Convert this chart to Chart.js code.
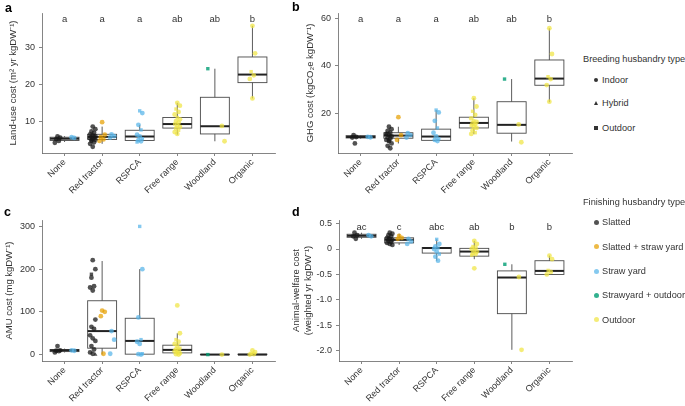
<!DOCTYPE html>
<html><head><meta charset="utf-8">
<script src="https://cdn.jsdelivr.net/npm/chart.js@4.4.0/dist/chart.umd.min.js"></script>
<style>
body{margin:0;background:#fff;width:685px;height:406px;overflow:hidden;position:relative;font-family:'Liberation Sans',Arial,sans-serif;}
.cv{position:absolute;}
.pl{position:absolute;font-weight:bold;font-size:12.5px;color:#000;line-height:1;}
.lg{position:absolute;font-size:9.2px;color:#333;white-space:nowrap;line-height:10px;}
.mk{position:absolute;}
</style></head><body>
<div class="cv" style="left:0;top:0;width:280px;height:200px"><canvas id="ca"></canvas></div>
<div class="cv" style="left:290px;top:0;width:287px;height:200px"><canvas id="cb"></canvas></div>
<div class="cv" style="left:0;top:200px;width:280px;height:206px"><canvas id="cc"></canvas></div>
<div class="cv" style="left:290px;top:200px;width:287px;height:206px"><canvas id="cd"></canvas></div>
<div class="pl" style="left:5px;top:2px">a</div>
<div class="pl" style="left:292px;top:1px">b</div>
<div class="pl" style="left:4px;top:206px">c</div>
<div class="pl" style="left:292px;top:206px">d</div>
<div id="legend"></div>
<script>
// ---------------- DATA ----------------
const categories = ['None','Red tractor','RSPCA','Free range','Woodland','Organic'];
const finishingTypes = ['Slatted','Slatted + straw yard','Straw yard','Strawyard + outdoor','Outdoor'];
const breedingTypes = ['Indoor','Hybrid','Outdoor'];

// box stats: [lower whisker, Q1, median, Q3, upper whisker]
const landUseBoxes = [
 [4.3, 4.7, 5.2, 5.6, 5.9],
 [3.8, 5.0, 5.7, 6.4, 8.5],
 [4.3, 4.7, 5.8, 7.5, 9.0],
 [6.3, 8.1, 9.2, 11.0, 15.0],
 [4.5, 6.5, 8.6, 16.5, 24.3],
 [16.2, 20.5, 22.7, 27.5, 36.0]
];
const ghgBoxes = [
 [9.5, 9.8, 10.2, 10.8, 11.0],
 [7.5, 9.7, 10.8, 12.0, 14.5],
 [8.5, 8.8, 10.4, 13.5, 21.5],
 [11.4, 14.0, 16.1, 18.5, 26.5],
 [8.3, 11.8, 15.3, 25.0, 34.5],
 [24.8, 31.9, 34.7, 42.5, 55.8]
];
const amuBoxes = [
 [5, 7, 10, 12, 14],
 [0, 15, 55, 126, 219],
 [0, 1, 32, 85, 200],
 [0, 4, 11, 22, 50],
 [0, 0, 0, 0.5, 0.5],
 [0, 0, 0, 1, 2]
];
const welfareBoxes = [
 [0.2, 0.23, 0.26, 0.29, 0.32],
 [0.08, 0.12, 0.18, 0.22, 0.3],
 [-0.23, -0.08, 0.02, 0.03, 0.19],
 [-0.2, -0.14, -0.05, 0.013, 0.16],
 [-1.98, -1.27, -0.56, -0.43, -0.3],
 [-0.5, -0.5, -0.43, -0.23, -0.13]
];

// points: [value, finishing type index, breeding type index]
const landUsePoints = [
 [[5.8,0,0],[5.5,0,0],[5.1,0,0],[4.6,0,0],[4.1,0,0],[5.6,2,0],[5.4,2,0]],
 [[8.5,0,0],[7.8,0,0],[7.2,0,0],[6.8,0,0],[6.4,0,0],[6.1,0,0],[5.9,0,0],[5.7,0,0],[5.5,0,0],[5.3,0,0],[5.1,0,0],[4.9,0,0],[4.6,0,0],[4.2,0,0],[3.8,0,0],[3.0,0,0],[5.6,0,1],[4.8,0,2],
  [9.7,1,0],[6.3,1,0],[5.6,1,0],[5.0,1,0],[4.6,1,0],[6.4,2,0],[5.9,2,0],[5.5,2,0]],
 [[12.8,2,2],[12.2,2,0],[9.0,2,0],[7.6,2,2],[6.3,2,0],[5.8,2,0],[5.2,2,2],[4.8,2,0],[4.5,2,0],[4.3,2,2]],
 [[15.0,4,0],[14.2,4,0],[13.3,4,2],[12.5,4,0],[11.8,4,0],[11.0,4,2],[10.5,4,0],[10.0,4,0],[9.6,4,0],[9.2,4,2],[8.8,4,0],[8.4,4,0],[8.0,4,0],[7.5,4,2],[7.0,4,0],[6.5,4,0]],
 [[24.3,3,2],[8.7,4,0],[4.5,4,0]],
 [[36.0,4,0],[28.5,4,0],[23.5,4,2],[22.5,4,0],[21.5,4,0],[16.2,4,0]]
];
const ghgPoints = [
 [[11.0,0,0],[10.2,0,0],[10.0,0,0],[7.5,0,0],[10.3,2,0],[10.1,2,0]],
 [[14.5,0,0],[13.5,0,0],[12.8,0,0],[12.0,0,0],[11.5,0,0],[11.0,0,0],[10.5,0,0],[10.0,0,0],[9.5,0,0],[9.0,0,0],[8.5,0,0],[7.5,0,0],[6.5,0,0],[5.5,0,0],[11.5,0,1],[8.5,0,2],
  [18.5,1,0],[11.0,1,0],[9.0,1,0],[11.8,2,0],[11.0,2,0],[10.0,2,0]],
 [[21.5,2,2],[20.5,2,0],[17.0,2,0],[14.0,2,2],[12.0,2,0],[10.5,2,0],[9.5,2,2],[9.0,2,0],[8.5,2,0]],
 [[26.5,4,0],[23.0,4,0],[21.0,4,2],[19.5,4,0],[18.0,4,0],[17.0,4,2],[16.5,4,0],[16.0,4,0],[15.5,4,0],[15.0,4,2],[14.5,4,0],[14.0,4,0],[13.0,4,0],[12.0,4,2],[11.5,4,0]],
 [[34.5,3,2],[15.5,4,0],[8.0,4,0]],
 [[55.8,4,0],[45.0,4,0],[35.5,4,2],[34.5,4,0],[32.0,4,0],[25.0,4,0]]
];
const amuPoints = [
 [[20,0,0],[10,0,0],[9,0,0],[8,0,0],[5,0,0],[10,2,0],[9,2,0]],
 [[221,0,0],[200,0,0],[180,0,0],[160,0,0],[157,0,0],[150,0,0],[82,0,0],[65,0,0],[60,0,0],[45,0,0],[38,0,0],[32,0,0],[20,0,0],[12,0,0],[5,0,0],[2,0,0],[0,0,1],[188,0,2],
  [103,1,0],[100,1,0],[90,1,0],[2,1,0],[55,2,0],[35,2,0],[2,2,0]],
 [[300,2,2],[200,2,0],[87,2,0],[35,2,2],[30,2,0],[25,2,0],[2,2,2],[1,2,0],[0,2,0]],
 [[115,4,0],[50,4,0],[35,4,2],[30,4,0],[25,4,0],[20,4,0],[15,4,2],[12,4,0],[10,4,0],[8,4,0],[5,4,2],[3,4,0],[1,4,0],[0,4,0]],
 [[0,3,2],[0,4,0]],
 [[10,4,0],[6,4,0],[3,4,2],[1,4,0],[0,4,0]]
];
const welfarePoints = [
 [[0.32,0,0],[0.27,0,0],[0.25,0,0],[0.2,0,0],[0.27,2,0],[0.25,2,0]],
 [[0.32,0,0],[0.3,0,0],[0.27,0,0],[0.25,0,0],[0.22,0,0],[0.2,0,0],[0.18,0,0],[0.16,0,0],[0.14,0,0],[0.12,0,0],[0.1,0,0],[0.08,0,0],[0.2,0,2],
  [0.26,1,0],[0.22,1,0],[0.2,1,0],[0.2,2,0],[0.15,2,0],[0.1,2,0]],
 [[0.19,2,2],[0.1,2,0],[0.05,2,0],[0.02,2,2],[0.0,2,0],[-0.05,2,0],[-0.1,2,2],[-0.15,2,0],[-0.23,2,0]],
 [[0.16,4,0],[0.1,4,0],[0.05,4,2],[0.02,4,0],[0.0,4,0],[-0.02,4,2],[-0.05,4,0],[-0.08,4,0],[-0.1,4,0],[-0.12,4,2],[-0.38,4,0]],
 [[-0.3,3,2],[-0.55,4,0],[-1.98,4,0]],
 [[-0.13,4,0],[-0.2,4,0],[-0.42,4,2],[-0.45,4,0],[-0.5,4,0]]
];

const landUseLetters = ['a','a','a','ab','ab','b'];
const ghgLetters = ['a','a','a','ab','ab','b'];
const amuLetters = [];
const welfareLetters = ['ac','c','abc','ab','b','b'];

const landUseTicks = [10,20,30];
const ghgTicks = [20,40,60];
const amuTicks = [0,100,200,300];
const welfareTicks = [0.5,0,-0.5,-1.0,-1.5,-2.0];
const welfareTickLabels = ['0.5','0','-0.5','-1.0','-1.5','-2.0'];

// ---------------- STYLE ----------------
const groupColors = ['rgba(25,25,25,0.75)','rgba(230,159,0,0.72)','rgba(86,180,233,0.72)','rgba(0,158,115,0.8)','rgba(240,228,66,0.72)'];
const shapeStyles = ['circle','triangle','rect'];
Chart.defaults.font.family = "'Liberation Sans', Arial, sans-serif";
Chart.defaults.color = '#333';

const boxPlugin = {
  id: 'boxes',
  beforeDatasetsDraw(chart, args, opts) {
    const {ctx, scales: {x, y}, chartArea} = chart;
    ctx.save();
    opts.boxes.forEach((b, i) => {
      const cx = x.getPixelForValue(i);
      const hw = x.getPixelForValue(i + 0.385) - cx;
      const [lo, q1, med, q3, hi] = b.map(v => y.getPixelForValue(v));
      ctx.strokeStyle = '#4a4a4a'; ctx.lineWidth = 0.9;
      ctx.beginPath();
      ctx.moveTo(cx, lo); ctx.lineTo(cx, q1);
      ctx.moveTo(cx, q3); ctx.lineTo(cx, hi);
      ctx.stroke();
      ctx.strokeRect(cx - hw, q3, 2 * hw, q1 - q3);
      ctx.strokeStyle = '#222'; ctx.lineWidth = 2;
      ctx.beginPath(); ctx.moveTo(cx - hw, med); ctx.lineTo(cx + hw, med); ctx.stroke();
    });
    ctx.fillStyle = '#333';
    ctx.font = "9.5px 'Liberation Sans', Arial, sans-serif";
    ctx.textAlign = 'center'; ctx.textBaseline = 'middle';
    opts.letters.forEach((t, i) => {
      ctx.fillText(t, x.getPixelForValue(i), chartArea.top + opts.letterOffset);
    });
    ctx.restore();
  }
};

function buildDatasets(points) {
  const ds = groupColors.map((c) => ({
    data: [], backgroundColor: c, borderColor: c, borderWidth: 0,
    pointRadius: 2.4, pointHoverRadius: 2.4,
    pointStyle: ctx => shapeStyles[ctx.raw ? ctx.raw.s : 0]
  }));
  points.forEach((cat, i) => {
    const present = [...new Set(cat.map(p => p[1]))].sort((a, b) => a - b);
    const counters = {};
    cat.forEach(([v, g, s]) => {
      const r = present.indexOf(g), n = present.length;
      const j = counters[g] = (counters[g] || 0) + 1;
      const dodge = 0.75 * ((r + 0.5) / n - 0.5);
      const jit = (((j * 7) % 5) / 4 - 0.5) * 0.14;
      ds[g].data.push({x: i + dodge + jit, y: v, s});
    });
  });
  return ds;
}

function makeChart(id, boxes, points, letters, yMin, yMax, tickVals, tickLabels, title, L) {
  const axisLine = {display: true, color: '#666', width: 0.8};
  const grid = {display: true, drawOnChartArea: false, drawTicks: true, tickLength: 3, color: '#666', lineWidth: 0.8};
  new Chart(document.getElementById(id), {
    type: 'scatter',
    data: {datasets: buildDatasets(points)},
    plugins: [boxPlugin],
    options: {
      responsive: true, maintainAspectRatio: false, animation: false,
      layout: {padding: {top: L.top, right: 5, left: 0, bottom: 0}},
      plugins: {legend: {display: false}, tooltip: {enabled: false},
        boxes: {boxes, letters, letterOffset: L.lo}},
      scales: {
        x: {
          type: 'linear', min: -0.6, max: 5.6,
          afterBuildTicks: s => { s.ticks = categories.map((c, i) => ({value: i})); },
          afterFit: s => { s.height = L.xh; },
          ticks: {callback: v => categories[v], minRotation: 45, maxRotation: 45, autoSkip: false,
            font: {size: 9}, color: '#333', padding: 1},
          grid, border: axisLine
        },
        y: {
          type: 'linear', min: yMin, max: yMax,
          afterBuildTicks: s => { s.ticks = tickVals.map(v => ({value: v})); },
          afterFit: s => { s.width = L.yw; },
          ticks: {callback: (v, i) => tickLabels[i], font: {size: 9}, color: '#333', padding: 4},
          title: {display: true, text: title, font: {size: 9.5}, color: '#333', padding: {top: L.tp, bottom: 0}},
          grid, border: axisLine
        }
      }
    }
  });
}

makeChart('ca', landUseBoxes, landUsePoints, landUseLetters, 1.3, 39.5, landUseTicks, landUseTicks.map(String),
  'Land-use cost (m² yr kgDW⁻¹)', {top: 13, xh: 47, yw: 42, tp: 8, lo: 6});
makeChart('cb', ghgBoxes, ghgPoints, ghgLetters, 3.5, 62.2, ghgTicks, ghgTicks.map(String),
  'GHG cost (kgCO₂e kgDW⁻¹)', {top: 13, xh: 47, yw: 48, tp: 15, lo: 6});
makeChart('cc', amuBoxes, amuPoints, amuLetters, -15, 315, amuTicks, amuTicks.map(String),
  'AMU cost (mg kgDW⁻¹)', {top: 20, xh: 45, yw: 42, tp: 4, lo: 7});
makeChart('cd', welfareBoxes, welfarePoints, welfareLetters, -2.2, 0.57, welfareTicks, welfareTickLabels,
  ['Animal-welfare cost', '(weighted yr kgDW⁻¹)'], {top: 20, xh: 45, yw: 49, tp: 1, lo: 7});

// ---------------- LEGEND ----------------
const lg = document.getElementById('legend');
function add(html) { lg.insertAdjacentHTML('beforeend', html); }
add(`<div class="lg" style="left:583px;top:54px">Breeding husbandry type</div>`);
const breedY = [80, 103, 128];
const shapeCss = [
  'width:4px;height:4px;border-radius:50%;background:#333;',
  'width:0;height:0;border-left:2.5px solid transparent;border-right:2.5px solid transparent;border-bottom:4.5px solid #333;',
  'width:4px;height:4px;background:#333;'
];
breedingTypes.forEach((t, i) => {
  add(`<div class="mk" style="left:594px;top:${breedY[i]-2}px;${shapeCss[i]}"></div>`);
  add(`<div class="lg" style="left:602px;top:${breedY[i]-5}px">${t}</div>`);
});
add(`<div class="lg" style="left:583px;top:197px">Finishing husbandry type</div>`);
const finY = [222, 246.5, 271, 295, 319.5];
finishingTypes.forEach((t, i) => {
  add(`<div class="mk" style="left:593.5px;top:${finY[i]-2.5}px;width:5px;height:5px;border-radius:50%;background:${groupColors[i]}"></div>`);
  add(`<div class="lg" style="left:602px;top:${finY[i]-5}px">${t}</div>`);
});
</script>
</body></html>
